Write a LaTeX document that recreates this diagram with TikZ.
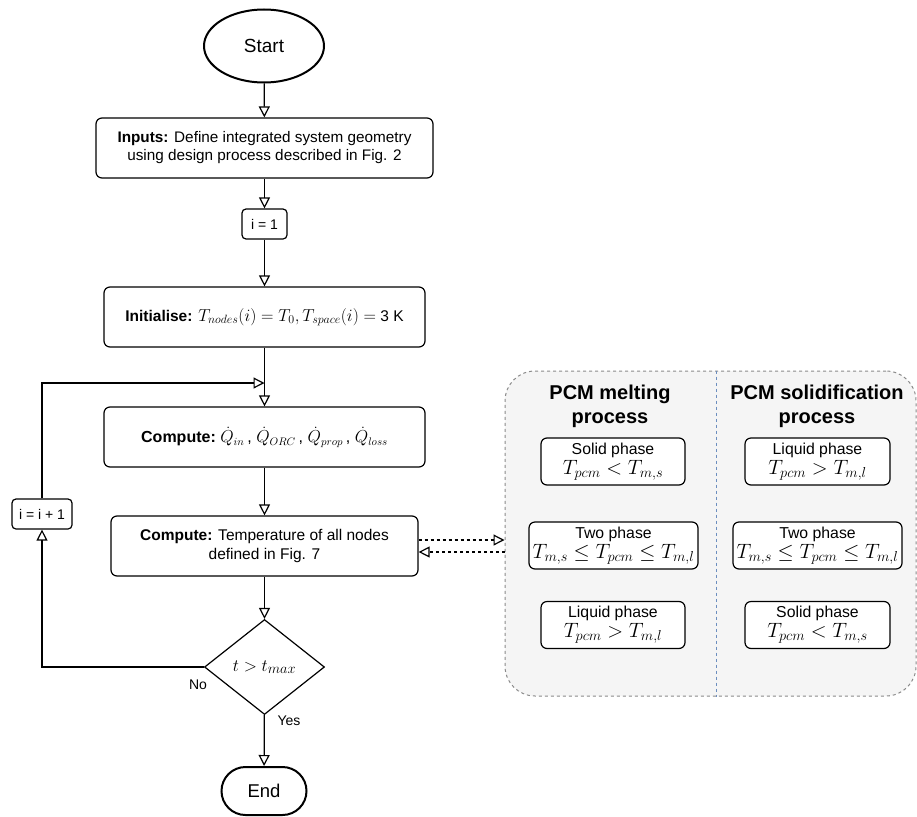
\documentclass[tikz,border=0pt]{standalone}
\usepackage{fontspec}
\setmainfont{Liberation Sans}
\usetikzlibrary{arrows.meta,shapes.geometric,shapes.misc,calc}
\definecolor{pcmfill}{HTML}{F5F5F5}
\definecolor{pcmline}{HTML}{8A8A8A}
\definecolor{divline}{HTML}{6C8EBF}
\newcommand{\mth}[2][17]{{\fontsize{#1}{#1}\selectfont$#2$}}
\begin{document}
\begin{tikzpicture}[x=1pt,y=-1pt,
  every node/.style={font=\fontsize{14}{17}\selectfont},
  box/.style={draw, rounded corners=6pt, line width=1.2pt, align=center, inner sep=2pt, fill=white},
  phasebox/.style={box, minimum height=47pt, font=\fontsize{15.8}{20}\selectfont},
  arr/.style={line width=1.2pt, -{Triangle[open,length=11pt,width=11pt,line width=1.2pt]}},
  darr/.style={arr, dash pattern=on 3pt off 3pt},
  heading/.style={font=\fontsize{20}{24}\selectfont\bfseries, align=center},
  lbl/.style={font=\fontsize{14}{16}\selectfont, inner sep=0pt}]
\useasboundingbox (0,0) rectangle (917,816);

% PCM container
\node[draw=pcmline, fill=pcmfill, dash pattern=on 3pt off 3pt, line width=1pt, rounded corners=30pt,
      minimum width=411pt, minimum height=325pt, inner sep=0pt] (pcm) at (710.5,533.5) {};
\coordinate (divtop) at ($(pcm.north)+(5.5,0)$);
\coordinate (divbot) at ($(pcm.south)+(5.5,0)$);
\draw[divline, line width=0.8pt, dash pattern=on 3pt off 3pt] (divtop) -- (divbot);

\node[heading] (hmelt) at (610,406) {PCM melting\\process};
\node[heading] (hsol) at (817,406) {PCM solidification\\process};

\node[phasebox, minimum width=144pt] (m1) at (613,461.5) {Solid phase\\\mth[20.5]{T_{pcm} < T_{m,s}}};
\node[phasebox, minimum width=169pt] (m2) at (613.5,545.5) {Two phase\\\mth[20]{T_{m,s} \leq T_{pcm} \leq T_{m,l}}};
\node[phasebox, minimum width=144pt] (m3) at (613,625) {Liquid phase\\\mth[20.5]{T_{pcm} > T_{m,l}}};
\node[phasebox, minimum width=145pt] (s1) at (817.5,461.5) {Liquid phase\\\mth[20.5]{T_{pcm} > T_{m,l}}};
\node[phasebox, minimum width=169pt] (s2) at (817.5,545.5) {Two phase\\\mth[20]{T_{m,s} \leq T_{pcm} \leq T_{m,l}}};
\node[phasebox, minimum width=145pt] (s3) at (817.5,625) {Solid phase\\\mth[20.5]{T_{pcm} < T_{m,s}}};

% main flow
\node[draw, ellipse, line width=2pt, minimum width=120pt, minimum height=73pt, inner sep=0pt,
      font=\fontsize{19}{21}\selectfont] (start) at (264,46) {Start};
\node[box, minimum width=337pt, minimum height=60pt, font=\fontsize{15.3}{18}\selectfont] (inputs) at (264.5,148)
  {\textbf{Inputs:} Define integrated system geometry\\using design process described in Fig. 2};
\node[box, rounded corners=4pt, minimum width=45pt, minimum height=30pt] (i1) at (264.5,224) {i = 1};
\node[box, minimum width=321pt, minimum height=60pt, font=\fontsize{15.5}{18}\selectfont] (init) at (264.5,317)
  {\textbf{Initialise:} \mth[18]{T_{nodes}(i) = T_0, T_{space}(i) =} 3 K};
\node[box, minimum width=321pt, minimum height=60pt, font=\fontsize{16}{18}\selectfont] (comp1) at (264.5,437)
  {\textbf{Compute:}~\mth[16]{\dot{Q}_{in}\,}, \mth[16]{\dot{Q}_{ORC}\,}, \mth[16]{\dot{Q}_{prop}\,}, \mth[16]{\dot{Q}_{loss}}};
\node[box, minimum width=307pt, minimum height=60pt, font=\fontsize{15.5}{18.5}\selectfont] (comp2) at (264.5,546)
  {\textbf{Compute:} Temperature of all nodes\\defined in Fig. 7};
\node[draw, diamond, line width=1.2pt, minimum width=120pt, minimum height=95pt, inner sep=0pt, fill=white] (dec) at (264.5,667)
  {\mth[19]{t > t_{max}}};
\node[draw, rounded rectangle, line width=2pt, minimum width=85pt, minimum height=48pt, inner sep=0pt,
      font=\fontsize{18.5}{20}\selectfont] (end) at (264,791) {End};
\node[box, rounded corners=4pt, minimum width=60pt, minimum height=30pt] (inc) at (42,514) {i = i + 1};

\coordinate (loopj) at (264.5,383);

\draw[arr] (start) -- (inputs);
\draw[arr] (inputs) -- (i1);
\draw[arr] (i1) -- (init);
\draw[arr] (init) -- (comp1);
\draw[arr] (comp1) -- (comp2);
\draw[arr] (comp2) -- (dec);
\draw[arr] (dec) -- (end);
\draw[arr] (dec.west) -| (inc.south);
\draw[arr] (inc.north) |- (loopj);

\node[lbl] (nolbl) at (198,685) {No};
\node[lbl] (yeslbl) at (289,721) {Yes};

\draw[darr] ([yshift=6pt]comp2.east) -- ([yshift=6pt]comp2.east -| pcm.west);
\draw[darr] ([yshift=-6pt]comp2.east -| pcm.west) -- ([yshift=-6pt]comp2.east);
\end{tikzpicture}
\end{document}
